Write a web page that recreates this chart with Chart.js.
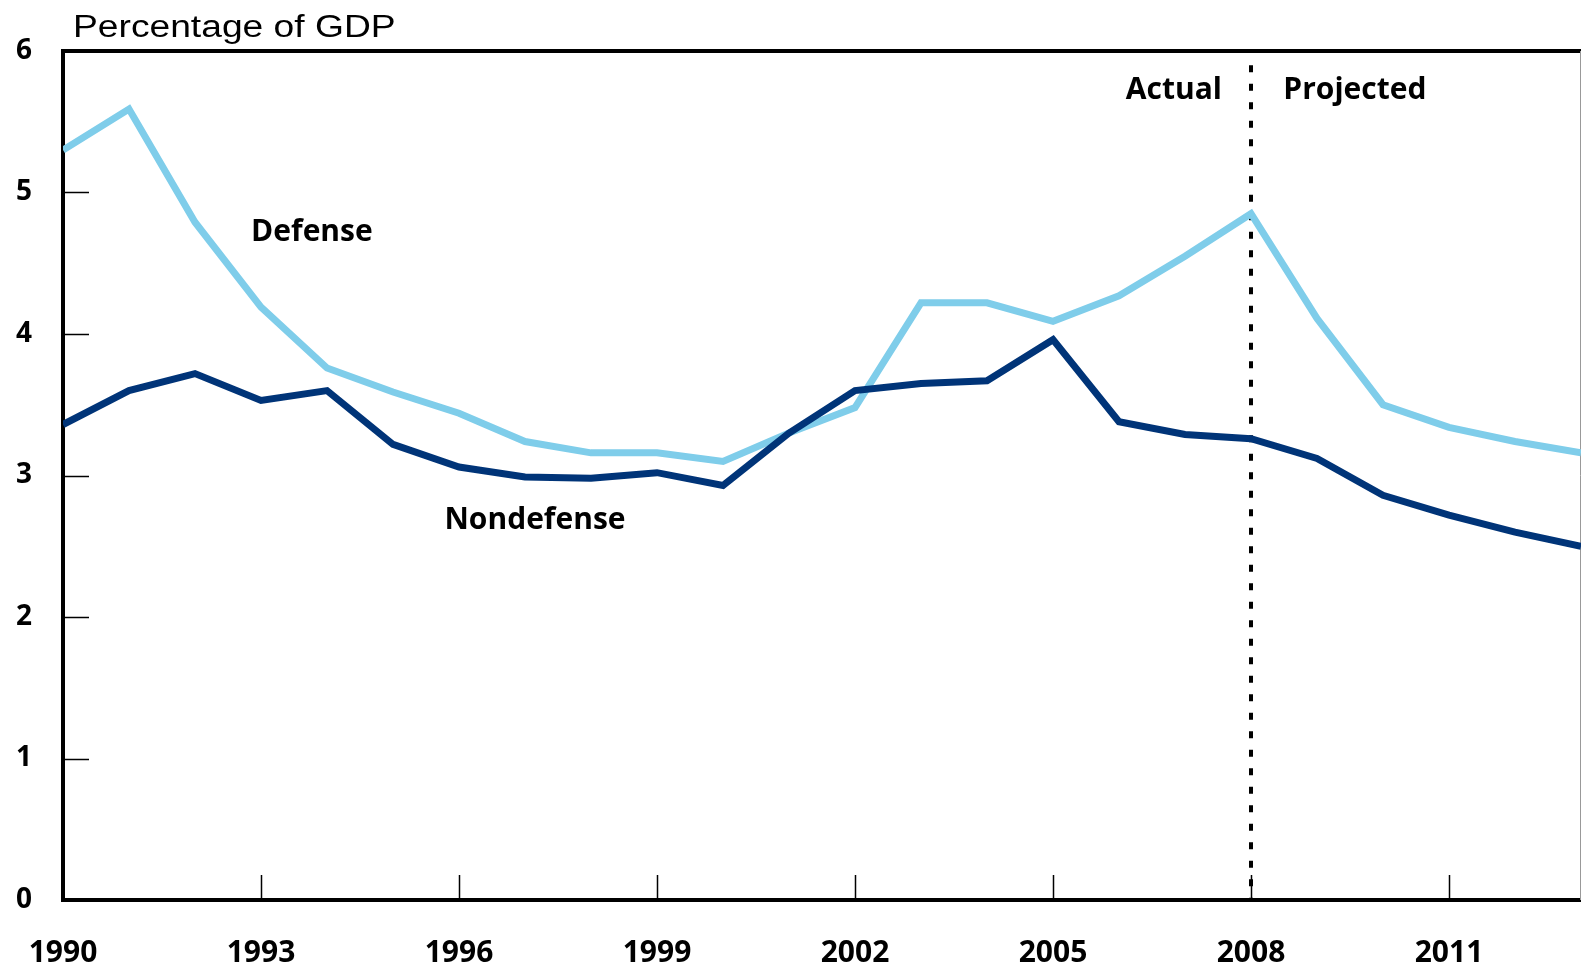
<!DOCTYPE html>
<html>
<head>
<meta charset="utf-8">
<script src="https://cdn.jsdelivr.net/npm/chart.js@4"></script>
<style>
  html, body { margin: 0; padding: 0; background: #fff; }
  #wrap { width: 1581px; height: 970px; position: relative; }
</style>
</head>
<body>
<div id="wrap"><canvas id="c"></canvas></div>
<script>
// ---- data ----
const years = [1990,1991,1992,1993,1994,1995,1996,1997,1998,1999,2000,2001,2002,2003,2004,2005,2006,2007,2008,2009,2010,2011,2012,2013];
const defense = [5.30,5.59,4.79,4.19,3.76,3.59,3.44,3.24,3.16,3.16,3.10,3.30,3.48,4.22,4.22,4.09,4.27,4.55,4.85,4.11,3.50,3.34,3.24,3.16];
const nondefense = [3.36,3.60,3.72,3.53,3.60,3.22,3.06,2.99,2.98,3.02,2.93,3.30,3.60,3.65,3.67,3.96,3.38,3.29,3.26,3.12,2.86,2.72,2.60,2.50];
const xTicks = [1990,1993,1996,1999,2002,2005,2008,2011];
const yTicks = [0,1,2,3,4,5,6];
const dividerYear = 2008;
const yAxisTitle = 'Percentage of GDP';
const seriesNames = ['Defense','Nondefense'];
const periodLabels = ['Actual','Projected'];

const LIGHT = '#7fcdea';
const DARK = '#003478';
const BOLD = 'bold 30px "Open Sans", "Noto Sans", sans-serif';

const overlay = {
  id: 'overlay',
  beforeDatasetsDraw(chart) {
    const { ctx, chartArea: a, scales: { x, y } } = chart;
    ctx.save();
    ctx.strokeStyle = '#000';
    ctx.lineWidth = 1.5;
    ctx.beginPath();
    yTicks.forEach(v => {
      if (v <= yTicks[0] || v >= yTicks[yTicks.length - 1]) return;
      const py = Math.round(y.getPixelForValue(v)) + 0.5;
      ctx.moveTo(a.left, py); ctx.lineTo(a.left + 26, py);
    });
    xTicks.forEach(v => {
      if (v === xTicks[0]) return;
      const px = Math.round(x.getPixelForValue(v)) + 0.5;
      ctx.moveTo(px, a.bottom); ctx.lineTo(px, a.bottom - 25);
    });
    ctx.stroke();
    // divider (dotted)
    const dx = x.getPixelForValue(dividerYear);
    ctx.lineWidth = 4;
    ctx.setLineDash([7, 11.5]);
    ctx.beginPath();
    ctx.moveTo(dx, y.getPixelForValue(5.9));
    ctx.lineTo(dx, a.bottom);
    ctx.stroke();
    ctx.setLineDash([]);
    // top border
    ctx.lineWidth = 4;
    ctx.beginPath();
    ctx.moveTo(a.left - 2, a.top); ctx.lineTo(a.right, a.top);
    ctx.stroke();
    // right edge thin gray
    ctx.strokeStyle = '#999';
    ctx.lineWidth = 1;
    ctx.beginPath();
    ctx.moveTo(a.right - 0.5, a.top); ctx.lineTo(a.right - 0.5, a.bottom);
    ctx.stroke();
    ctx.restore();
  },
  afterDatasetsDraw(chart) {
    const { ctx, chartArea: a, scales: { x, y } } = chart;
    ctx.save();
    // axis title
    ctx.fillStyle = '#000';
    ctx.font = '31px "Liberation Sans", Arial, sans-serif';
    ctx.textBaseline = 'alphabetic';
    ctx.textAlign = 'left';
    ctx.translate(a.left + 10, a.top - 14);
    ctx.scale(1.2, 1);
    ctx.fillText(yAxisTitle, 0, 0);
    ctx.restore();

    ctx.save();
    ctx.fillStyle = '#000';
    ctx.font = BOLD;
    ctx.textBaseline = 'middle';
    ctx.textAlign = 'left';
    ctx.fillText(seriesNames[0], x.getPixelForValue(1992.85), y.getPixelForValue(4.72));
    ctx.fillText(seriesNames[1], x.getPixelForValue(1995.78), y.getPixelForValue(2.68));
    ctx.textAlign = 'right';
    ctx.fillText(periodLabels[0], x.getPixelForValue(2007.56), y.getPixelForValue(5.72));
    ctx.textAlign = 'left';
    ctx.fillText(periodLabels[1], x.getPixelForValue(2008.49), y.getPixelForValue(5.72));
    ctx.restore();
  }
};

const toPts = arr => years.map((yr, i) => ({ x: yr, y: arr[i] }));

new Chart(document.getElementById('c'), {
  type: 'line',
  data: {
    datasets: [
      { label: seriesNames[1], data: toPts(nondefense), borderColor: DARK, borderWidth: 7, pointRadius: 0, tension: 0, order: 0, borderJoinStyle: 'miter', borderCapStyle: 'butt' },
      { label: seriesNames[0], data: toPts(defense), borderColor: LIGHT, borderWidth: 7, pointRadius: 0, tension: 0, order: 1, borderJoinStyle: 'miter', borderCapStyle: 'butt' }
    ]
  },
  options: {
    responsive: true,
    maintainAspectRatio: false,
    animation: false,
    layout: { padding: { top: 51, left: 0, right: 0, bottom: 0 } },
    plugins: { legend: { display: false }, tooltip: { enabled: false }, title: { display: false } },
    scales: {
      x: {
        type: 'linear',
        min: years[0],
        max: years[years.length - 1],
        afterBuildTicks: s => { s.ticks = xTicks.map(v => ({ value: v })); },
        afterFit: s => { s.height = 70; s.paddingLeft = 0; s.paddingRight = 0; },
        grid: { display: false, drawTicks: false },
        border: { display: true, color: '#000', width: 4 },
        ticks: {
          color: '#000',
          font: { family: '"Open Sans", "Noto Sans", sans-serif', size: 30, weight: 'bold' },
          padding: 35,
          maxRotation: 0,
          autoSkip: false,
          callback: v => String(v)
        }
      },
      y: {
        min: yTicks[0],
        max: yTicks[yTicks.length - 1],
        afterBuildTicks: s => { s.ticks = yTicks.map(v => ({ value: v })); },
        afterFit: s => { s.width = 63; s.paddingTop = 0; s.paddingBottom = 0; },
        grid: { display: false, drawTicks: false },
        border: { display: true, color: '#000', width: 4 },
        ticks: {
          color: '#000',
          font: { family: '"Open Sans", "Noto Sans", sans-serif', size: 28, weight: 'bold' },
          padding: 31,
          callback: v => String(v)
        }
      }
    }
  },
  plugins: [overlay]
});
</script>
</body>
</html>
